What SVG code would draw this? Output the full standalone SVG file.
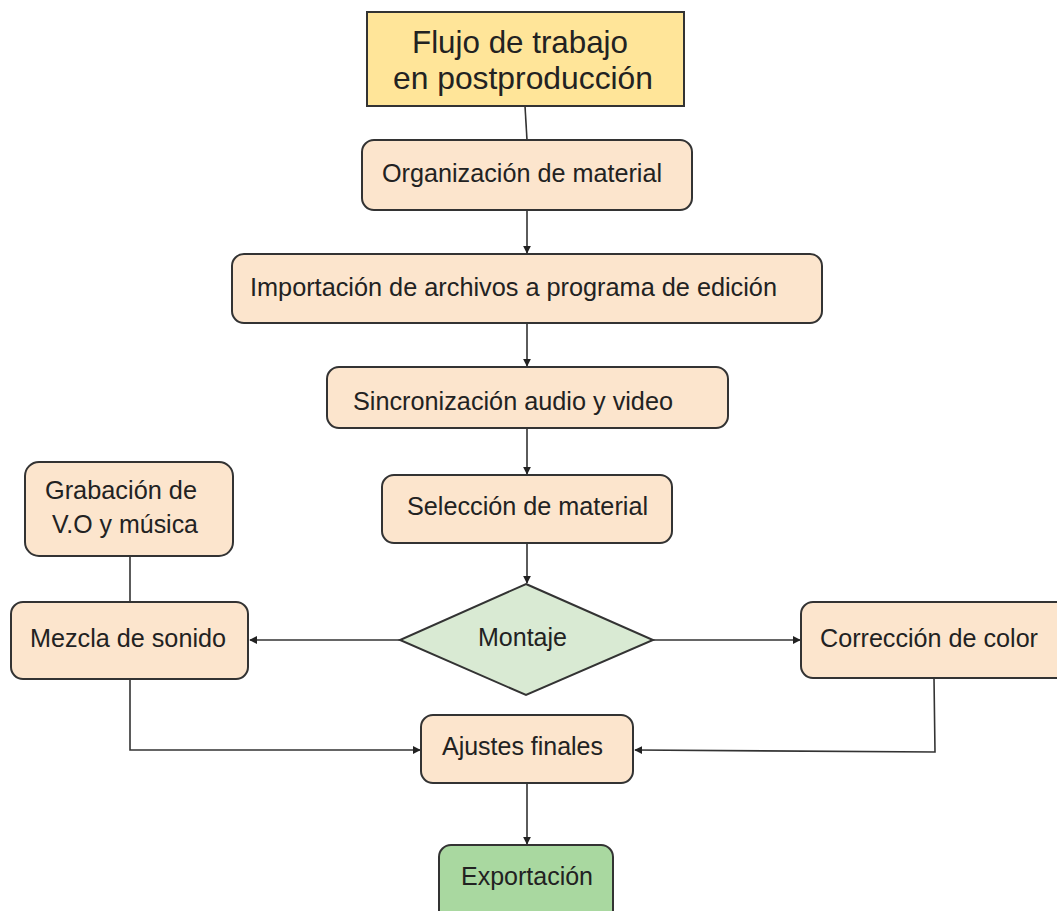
<svg xmlns="http://www.w3.org/2000/svg" width="1057" height="911" viewBox="0 0 1057 911">
<style>
  .box{fill:#fce5cd;stroke:#333;stroke-width:2}
  .t{font-family:"Liberation Sans",Arial,sans-serif;font-size:25px;fill:#222}
  .title{font-family:"Liberation Sans",Arial,sans-serif;font-size:32px;fill:#222}
  .c{fill:none;stroke:#333;stroke-width:1.6}
</style>
<defs>
  <marker id="ah" viewBox="0 0 10 10" refX="9" refY="5" markerWidth="5" markerHeight="5" orient="auto" markerUnits="strokeWidth">
    <path d="M0,0 L10,5 L0,10 z" fill="#222"/>
  </marker>
</defs>
<rect width="1057" height="911" fill="#fff"/>
<g id="connectors">
  <path class="c" d="M525,106 L527,140"/>
  <path class="c" d="M527,210 L527,253" marker-end="url(#ah)"/>
  <path class="c" d="M527,323 L527,366" marker-end="url(#ah)"/>
  <path class="c" d="M527,428 L527,474" marker-end="url(#ah)"/>
  <path class="c" d="M527,543 L527,583" marker-end="url(#ah)"/>
  <path class="c" d="M400,640 L250,640" marker-end="url(#ah)"/>
  <path class="c" d="M653,640 L800,640" marker-end="url(#ah)"/>
  <path class="c" d="M130,556 L130,602"/>
  <path class="c" d="M130,679 L130,750 L420,750" marker-end="url(#ah)"/>
  <path class="c" d="M934,678 L935,752 L635,750" marker-end="url(#ah)"/>
  <path class="c" d="M527,783 L527,844" marker-end="url(#ah)"/>
</g>
<g id="title">
  <rect x="367" y="12" width="317" height="94" fill="#ffe599" stroke="#333" stroke-width="2"/>
  <text class="title" x="412" y="53" textLength="216" lengthAdjust="spacingAndGlyphs">Flujo de trabajo</text>
  <text class="title" x="393" y="89" textLength="260" lengthAdjust="spacingAndGlyphs">en postproducción</text>
</g>
<g id="organizacion">
  <rect class="box" x="362" y="140" width="330" height="70" rx="12"/>
  <text class="t" x="382" y="182" textLength="280" lengthAdjust="spacingAndGlyphs">Organización de material</text>
</g>
<g id="importacion">
  <rect class="box" x="232" y="254" width="590" height="69" rx="12"/>
  <text class="t" x="250" y="296" textLength="527" lengthAdjust="spacingAndGlyphs">Importación de archivos a programa de edición</text>
</g>
<g id="sincronizacion">
  <rect class="box" x="327" y="367" width="401" height="61" rx="12"/>
  <text class="t" x="353" y="410" textLength="320" lengthAdjust="spacingAndGlyphs">Sincronización audio y video</text>
</g>
<g id="seleccion">
  <rect class="box" x="382" y="475" width="290" height="68" rx="12"/>
  <text class="t" x="407" y="515" textLength="241" lengthAdjust="spacingAndGlyphs">Selección de material</text>
</g>
<g id="montaje">
  <polygon points="526,584 653,640 526,695 400,640" fill="#d9ead3" stroke="#333" stroke-width="2"/>
  <text class="t" x="478" y="646" textLength="89" lengthAdjust="spacingAndGlyphs">Montaje</text>
</g>
<g id="grabacion">
  <rect class="box" x="25" y="462" width="208" height="94" rx="14"/>
  <text class="t" x="45" y="499" textLength="152" lengthAdjust="spacingAndGlyphs">Grabación de</text>
  <text class="t" x="52" y="533" textLength="146" lengthAdjust="spacingAndGlyphs">V.O y música</text>
</g>
<g id="mezcla">
  <rect class="box" x="11" y="602" width="237" height="77" rx="12"/>
  <text class="t" x="30" y="647" textLength="196" lengthAdjust="spacingAndGlyphs">Mezcla de sonido</text>
</g>
<g id="correccion">
  <rect class="box" x="801" y="602" width="270" height="76" rx="12"/>
  <text class="t" x="820" y="647" textLength="218" lengthAdjust="spacingAndGlyphs">Corrección de color</text>
</g>
<g id="ajustes">
  <rect class="box" x="421" y="715" width="212" height="68" rx="12"/>
  <text class="t" x="442" y="755" textLength="161" lengthAdjust="spacingAndGlyphs">Ajustes finales</text>
</g>
<g id="exportacion">
  <rect x="439" y="845" width="174" height="80" rx="12" fill="#a9d8a0" stroke="#333" stroke-width="2"/>
  <text class="t" x="461" y="885" textLength="132" lengthAdjust="spacingAndGlyphs">Exportación</text>
</g>
</svg>
